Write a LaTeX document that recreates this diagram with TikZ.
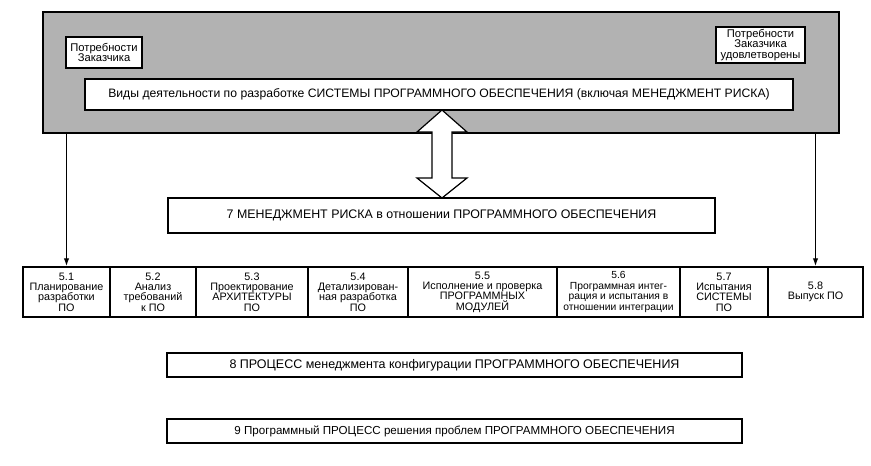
\documentclass[tikz,border=0pt]{standalone}
\usepackage{fontspec}
\setmainfont{Liberation Sans}
\usetikzlibrary{calc,arrows.meta}
\tikzset{
  box/.style={draw=black, line width=1.7pt, fill=white, inner sep=1pt, align=center},
  sbox/.style={draw=black, line width=1.5pt, fill=white, inner sep=0.5pt, align=center, font=\fontsize{10.8}{10.4}\selectfont, minimum height=50pt},
  cbox/.style={draw=black, line width=1.8pt, fill=white, inner sep=0.5pt, align=center, font=\fontsize{11.2}{10.6}\selectfont},
  conn/.style={draw=black, line width=1.4pt, -{Latex[length=8pt,width=5.5pt]}},
}
\begin{document}
\begin{tikzpicture}[x=1pt,y=-1pt]
\useasboundingbox (0,0) rectangle (871,466);
% big gray area
\node[draw=black, line width=1.6pt, fill=black!30, minimum width=796pt, minimum height=121pt, inner sep=0pt] (top) at (441,72.5) {};
\node[cbox, minimum width=76pt, minimum height=31pt] (cust) at (104,52.5) {Потребности\\Заказчика};
\node[cbox, minimum width=89pt, minimum height=36pt] (sat) at (760.5,45) {Потребности\\Заказчика\\удовлетворены};
\node[box, minimum width=708pt, minimum height=31pt, font=\fontsize{12.2}{13}\selectfont] (vids) at (439,94.5) {Виды деятельности по разработке СИСТЕМЫ ПРОГРАММНОГО ОБЕСПЕЧЕНИЯ (включая МЕНЕДЖМЕНТ РИСКА)};
% box 7
\node[box, minimum width=547pt, minimum height=35pt, font=\fontsize{12.4}{13}\selectfont] (r7) at (441.5,215.5) {7 МЕНЕДЖМЕНТ РИСКА в отношении ПРОГРАММНОГО ОБЕСПЕЧЕНИЯ};
% double arrow
\coordinate (aT) at (442,110);
\coordinate (aB) at (442,198);
\draw[line width=1.2pt, fill=white]
  (aT) -- ($(aT)+(25,22)$) -- ($(aT)+(10,22)$) -- ($(aB)+(10,-20)$) -- ($(aB)+(25,-20)$) -- (aB)
  -- ($(aB)+(-25,-20)$) -- ($(aB)+(-10,-20)$) -- ($(aT)+(-10,22)$) -- ($(aT)+(-25,22)$) -- cycle;
% row of boxes
\node[sbox, minimum width=87pt] (b1) at (66.5,292) {5.1\\Планирование\\разработки\\ПО};
\node[sbox, minimum width=86pt] (b2) at (153,292) {5.2\\Анализ\\требований\\к ПО};
\node[sbox, minimum width=112pt] (b3) at (252,292) {5.3\\Проектирование\\АРХИТЕКТУРЫ\\ПО};
\node[sbox, minimum width=100pt] (b4) at (358,292) {5.4\\Детализирован-\\ная разработка\\ПО};
\node[sbox, minimum width=149pt] (b5) at (482.5,292) {5.5\\Исполнение и проверка\\ПРОГРАММНЫХ\\МОДУЛЕЙ};
\node[sbox, minimum width=123pt, font=\fontsize{10.3}{10.4}\selectfont] (b6) at (618.5,292) {5.6\\Программная интег-\\рация и испытания в\\отношении интеграции};
\node[sbox, minimum width=88pt] (b7) at (724,292) {5.7\\Испытания\\СИСТЕМЫ\\ПО};
\node[sbox, minimum width=95pt] (b8) at (815.5,292) {5.8\\Выпуск ПО};
% arrows
\draw[conn] (top.south -| b1.north) -- (b1.north);
\draw[conn] (top.south -| b8.north) -- (b8.north);
% boxes 8, 9
\node[box, minimum width=575pt, minimum height=24pt, font=\fontsize{12.5}{13}\selectfont] (r8) at (454.5,365) {8 ПРОЦЕСС менеджмента конфигурации ПРОГРАММНОГО ОБЕСПЕЧЕНИЯ};
\node[box, minimum width=575pt, minimum height=24pt, font=\fontsize{11.6}{13}\selectfont] (r9) at (454.5,431) {9 Программный ПРОЦЕСС решения проблем ПРОГРАММНОГО ОБЕСПЕЧЕНИЯ};
\end{tikzpicture}
\end{document}
